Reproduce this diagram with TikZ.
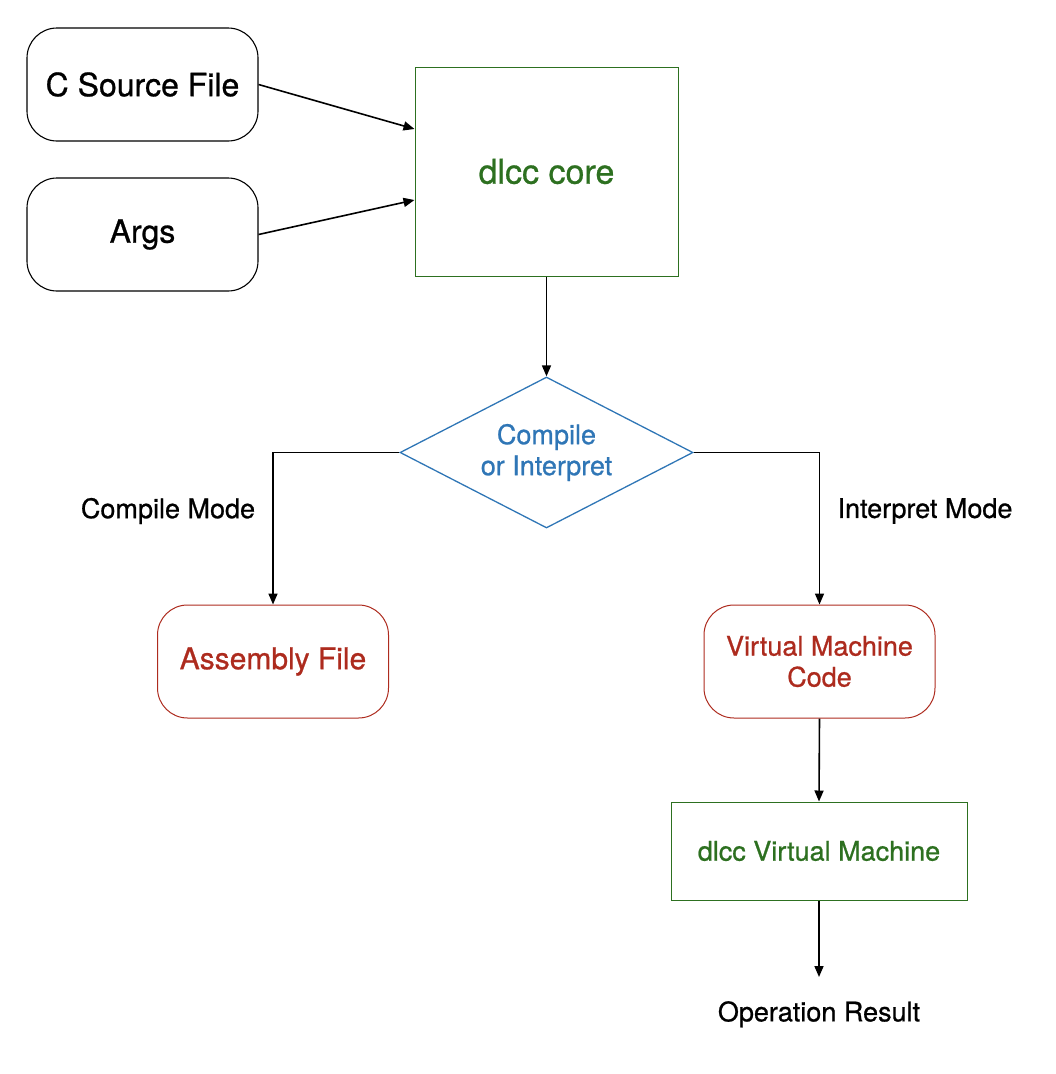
\documentclass[tikz,border=0pt]{standalone}
\usepackage{fontspec}
\setmainfont{TeX Gyre Heros}[FakeBold=0.8]
\usetikzlibrary{shapes.geometric,arrows.meta}

\definecolor{coregreen}{HTML}{2D7020}
\definecolor{modeblue}{HTML}{2F76B6}
\definecolor{outred}{HTML}{AD2B1E}

\begin{document}
\begin{tikzpicture}[x=1pt,y=-1pt]
		\tikzset{inbox/.style = {shape=rectangle, draw, rounded corners=30pt, line width=1.1pt, minimum width=231pt, minimum height=113pt, inner sep=0pt, font=\fontsize{32pt}{36pt}\selectfont}}
		\tikzset{outbox/.style = {inbox, draw=outred, text=outred, line width=1pt, align=center, font=\fontsize{27pt}{31pt}\selectfont}}
		\tikzset{corebox/.style = {shape=rectangle, draw=coregreen, text=coregreen, line width=1pt, inner sep=0pt}}
		\tikzset{label/.style = {inner sep=0pt, font=\fontsize{27pt}{31pt}\selectfont}}
		\tikzset{flow/.style = {line width=1.6pt, -{Triangle[length=11pt,width=9pt]}}}

		\useasboundingbox (0,0) rectangle (1056,1074);

		\node[inbox] (C_src) at (142.5,84.5) {C Source File};
		\node[inbox] (C_args) at (142.5,234.5) {Args};
		\node[corebox, minimum width=263pt, minimum height=209pt, font=\fontsize{34pt}{38pt}\selectfont] (core) at (546.5,171.5) {dlcc core};
		\node[shape=diamond, draw=modeblue, text=modeblue, line width=1.3pt, aspect=1.94, minimum width=293pt, minimum height=151pt, inner sep=0pt, align=center, font=\fontsize{27pt}{31pt}\selectfont] (mode) at (546.5,452.5) {Compile\\or Interpret};
		\node[outbox, font=\fontsize{30pt}{34pt}\selectfont] (asm) at (273,661.5) {Assembly File};
		\node[outbox] (vm_code) at (819.5,661.5) {Virtual Machine\\Code};
		\node[corebox, minimum width=296pt, minimum height=98pt, font=\fontsize{27pt}{31pt}\selectfont] (vm) at (819,851) {dlcc Virtual Machine};
		\node[label, anchor=north, inner ysep=24pt] (result) at (819,977) {Operation Result};

		\node[label] (l_compile) at (168,511) {Compile Mode};
		\node[label] (l_interp) at (925,511) {Interpret Mode};

		%arrows
		\draw[flow] (C_src.east) -- ([yshift=42.5pt]core.west);
		\draw[flow] (C_args.east) -- ([yshift=-28.5pt]core.west);
		\draw[flow] (core.south) -- (mode.north);
		\draw[flow] (mode.west) -| (asm.north);
		\draw[flow] (mode.east) -| (vm_code.north);
		\draw[flow] (vm_code.south) -- (vm.north);
		\draw[flow] (vm.south) -- (result.north);

	\end{tikzpicture}
\end{document}
